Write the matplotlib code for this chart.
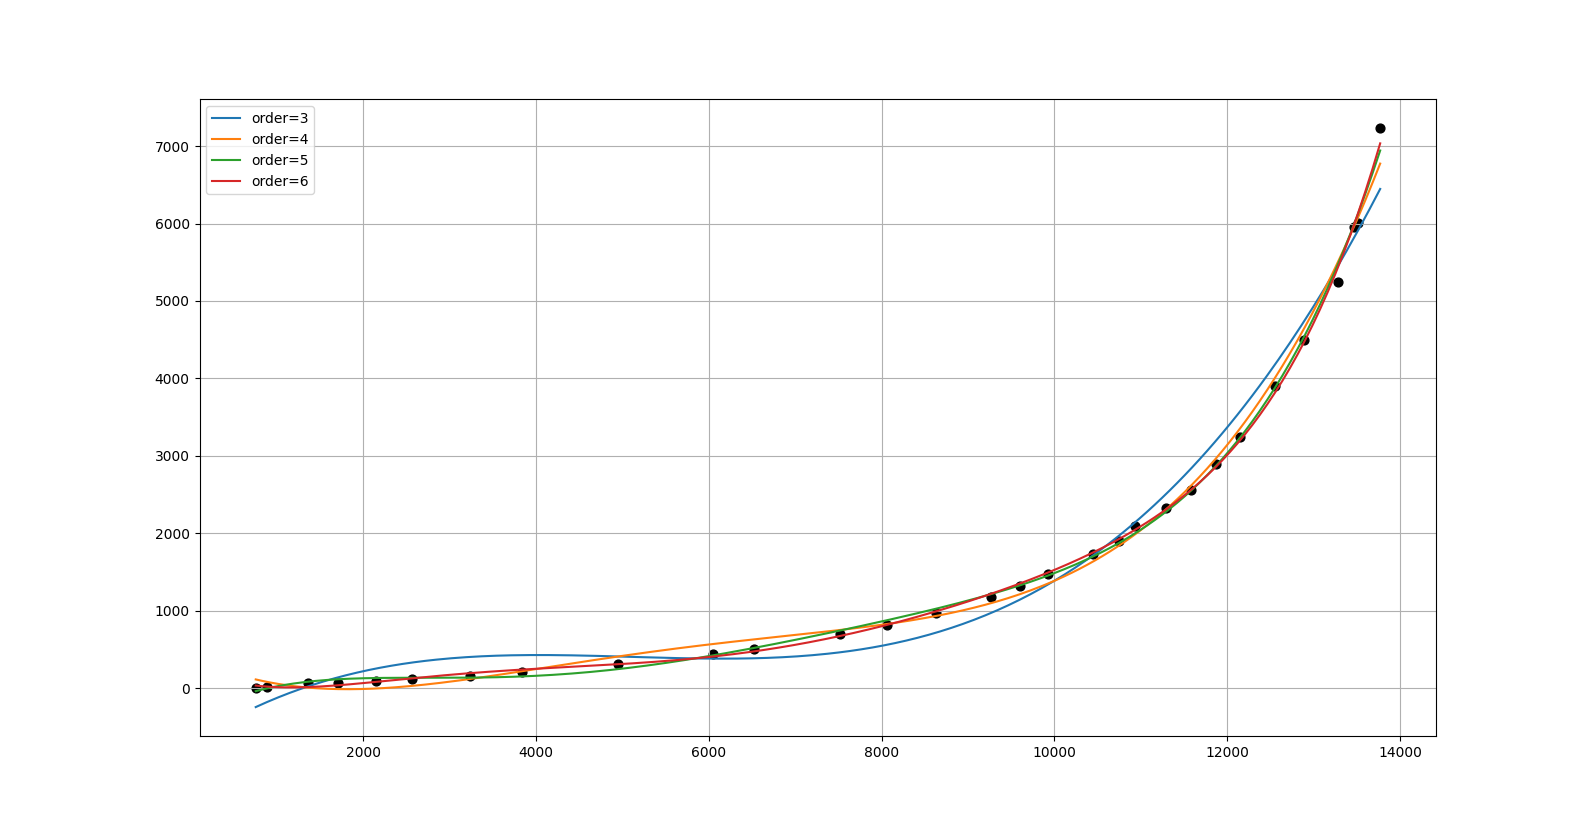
import numpy as np
import matplotlib
matplotlib.use("Agg")
from matplotlib import pyplot as plt

# data points
x = [756, 890, 1364, 1711, 2150, 2566, 3230, 3838, 4948, 6046, 6520, 7514,
     8058, 8624, 9265, 9604, 9929, 10450, 10752, 10927, 11287, 11574, 11873,
     12150, 12555, 12891, 13286, 13465, 13510, 13769]
y = [0, 20, 64, 64, 90, 115, 158, 205, 314, 444, 513, 696,
     815, 974, 1175, 1320, 1472, 1738, 1905, 2097, 2324, 2564, 2897,
     3247, 3901, 4500, 5243, 5950, 6010, 7231]
orders = [3, 4, 5, 6]

x = np.array(x, dtype='float64')
y = np.array(y, dtype='float64')

fig = plt.figure(figsize=(15.96, 8.27), dpi=100)
plt.scatter(x, y, color='black', s=40)

xs = np.linspace(x.min(), x.max(), 300)
for order in orders:
    coefs = np.polyfit(x, y, order)
    plt.plot(xs, np.polyval(coefs, xs), label='order=' + str(order))

plt.grid(True)
plt.legend(loc='upper left')
plt.savefig('out.png', dpi=100)
